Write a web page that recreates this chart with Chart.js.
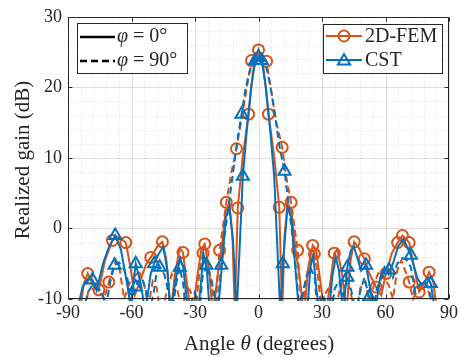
<!DOCTYPE html>
<html>
<head>
<meta charset="utf-8">
<script src="https://cdn.jsdelivr.net/npm/chart.js@4.4.1/dist/chart.umd.min.js"></script>
<style>
  body { margin: 0; background: #fff; }
  #wrap { width: 461px; height: 357px; }
</style>
</head>
<body>
<div id="wrap"><canvas id="myChart" width="461" height="357"></canvas></div>
<script>
// axis ticks
const angleTicks = [-90, -60, -30, 0, 30, 60, 90];
const gainTicks = [-10, 0, 10, 20, 30];

// 2D-FEM, phi = 0 (solid)
const fem0Angle = [-84.5, -82.5, -80.7, -78, -75.5, -72.5, -69, -66, -62.7, -60.5, -58.5, -56, -53, -50.9, -47.5, -45.4, -43.5, -41.5, -39.5, -37.2,
  -35.7, -33.5, -31.5, -29, -27, -25.4, -23.5, -21.5, -19.5, -17.5, -15.5, -13.8, -12.3, -11.2, -9.8, -7.5, -4.7, -2.5, 0, 2.5,
  4.7, 7.5, 9.8, 11.2, 12.3, 13.8, 15.5, 17.5, 19.5, 21.5, 23.5, 25.6, 27.2, 29, 31.5, 33.5, 35.8, 37.2, 39.5, 41.5,
  43.5, 45.2, 47.5, 50, 52.5, 55.5, 58, 60.2, 63, 65.7, 68, 71.2, 73.5, 75.9, 78, 80.6, 82.5, 84.5];
const fem0Gain = [-12, -7.8, -6.4, -8.2, -8.8, -4.5, -1.7, -1.2, -2.0, -5.5, -9.5, -7.5, -5.0, -4.1, -2.4, -1.9, -4.5, -12, -6.5, -2.8,
  -3.4, -8.5, -13, -7, -3, -2.2, -5.5, -12.5, -7, -3, 2.5, 3.6, -1, -12, 2.9, 10, 16.2, 22.5, 25.3, 22.5,
  16.2, 10, 3.0, -12, -1, 3.6, 2.5, -3, -7, -12.5, -5.5, -2.4, -3, -7, -13, -8.5, -3.5, -3, -6.5, -12,
  -4.5, -1.9, -2.8, -4.3, -6.5, -8.3, -9.5, -6.4, -3.5, -2.0, -1.0, -2.0, -5.5, -9, -8, -6.2, -7.5, -12];
const fem0Marks = [-80.7, -69, -62.7, -50.9, -45.4, -35.7, -25.4, -9.8, -4.7, 0, 4.7, 9.8, 25.6, 35.8, 45.2, 50, 55.5, 60.2, 65.7, 68, 71.2, 75.9, 80.6];

// 2D-FEM, phi = 90 (dashed)
const fem90Angle = [-83, -80.5, -78, -75.4, -73, -70.7, -67.5, -65.5, -63.5, -61, -59, -56.5, -54, -52, -50, -48, -46, -43.5, -41, -38.5,
  -36, -34, -32, -30, -28, -26.2, -24.5, -22.5, -20.5, -18.4, -15.2, -12.8, -10.4, -8, -5.5, -3.3, -1, 1, 3.8, 6,
  8.5, 11.2, 13, 15.4, 18.5, 20.5, 22.5, 24.5, 26.4, 28, 30, 32, 34, 36, 38.5, 41, 43.5, 46, 48, 50.5,
  52.5, 54.5, 57, 59, 61.5, 63.5, 65.5, 67.5, 71.2, 73, 75.5, 78, 80.5, 83];
const fem90Gain = [-13, -9, -8.5, -8.7, -10, -7.6, -4.5, -6, -10, -7.8, -7, -6, -8, -11, -7.5, -8.5, -13, -9, -6.5, -8.5,
  -12, -8, -9, -12.5, -6.5, -3.5, -4.5, -7, -12, -3.1, 3.7, 8, 11.3, 15.5, 20, 23.8, 24.8, 24.8, 23.7, 19.5,
  15, 11.5, 7.5, 3.7, -3.1, -12, -7, -4.5, -3.6, -6.5, -12.5, -9, -8, -12, -8.5, -6.5, -9, -13, -8.5, -7.5,
  -11, -8, -6, -7, -8, -10, -6, -4.5, -7.6, -10, -8.5, -8.5, -9, -13];
const fem90Marks = [-75.4, -70.7, -26.2, -18.4, -15.2, -10.4, -3.3, 3.8, 11.2, 15.4, 18.5, 26.4, 71.2];

// CST, phi = 0 (solid)
const cst0Angle = [-86, -83, -80, -78.4, -76.5, -73.5, -70.5, -67.7, -65, -62, -60.5, -58, -55.5, -53.5, -51, -49.3, -47, -45, -43, -41.5,
  -39, -37, -35.6, -33.5, -31.5, -30, -28.5, -26, -24.5, -23, -21, -19.5, -17.5, -15.5, -13.7, -12, -10.3, -8.8, -7.4, -5.5,
  -3.5, -1.5, 0, 1.5, 3.5, 5.5, 7.4, 8.8, 10.3, 11.5, 13.7, 15.5, 17.5, 19.5, 21, 23, 24.5, 25.8, 27.5, 29,
  31, 33, 34.8, 36.5, 38, 40, 42, 43.5, 45, 47, 48.5, 50.8, 53, 55, 57.5, 59.5, 61.5, 63.5, 66, 68.5,
  72, 75, 77, 80, 81.4, 83.5];
const cst0Gain = [-12, -8.2, -7.0, -7.3, -8.8, -5, -2.5, -1.0, -3, -8, -11, -5.0, -8, -12, -6.5, -5.0, -3.5, -2.6, -6, -12,
  -7, -4.2, -5.5, -11, -13, -10.5, -12, -3.6, -5.5, -12, -10.5, -13, -6, 1.5, 3.0, -2, -12, -2, 7.4, 14,
  20, 23.8, 24.2, 23.8, 20, 14, 7.4, -2, -12, -5.0, 3.0, 1.5, -6, -13, -10.5, -12, -5.5, -3.8, -9, -12,
  -10, -13, -7, -4.0, -6, -12, -5.5, -3.2, -2.5, -4.5, -6, -5.2, -9, -12, -7, -5.5, -6.5, -5, -2.5, -1.5,
  -3.8, -7, -8, -7, -7.8, -12];
const cst0Marks = [-78.4, -67.7, -58, -49.3, -7.4, -1.5, 1.5, 11.5, 42, 50.8, 72, 81.4];

// CST, phi = 90 (dashed)
const cst90Angle = [-83, -80.5, -78.5, -76, -74, -72, -70, -68, -66, -64, -62, -60, -58, -57, -55, -53, -51.5, -49.5, -48, -46.7,
  -44.5, -42.5, -41, -39, -37.2, -35.5, -34, -32, -30, -28, -26.5, -24.6, -22.5, -21, -19.5, -17.6, -16, -14, -12, -10,
  -8, -6, -4, -2, 0, 2, 4, 6, 8, 10, 12.3, 14, 16, 17.6, 19.5, 21, 22.5, 24.5, 26.5, 28,
  30, 32, 34, 36, 38, 40, 42, 44, 46, 48, 50, 52.3, 54, 56, 58, 60, 61.7, 63.5, 65.5, 68,
  70, 72, 74, 76, 78.5, 80.5, 83];
const cst90Gain = [-12, -9, -8, -8.5, -9, -11, -7.5, -5.2, -4.8, -5.5, -7, -10.5, -8.3, -7.5, -7, -9, -12, -9, -6, -5.5,
  -6.5, -9, -12.5, -8, -5.5, -8, -13, -10.5, -9, -12, -7, -5.2, -7, -9, -12, -5.2, -1, 3.5, 8, 12.5,
  16.2, 20, 22.5, 24, 24.3, 24, 22.5, 19.5, 15.5, 11.5, 8.1, 4, -1, -5.5, -12, -9, -7, -5.5, -7, -12,
  -9.5, -11, -13, -8.5, -7.5, -9.5, -6.9, -9, -12, -9, -7, -9.7, -12, -8.5, -7, -6.5, -5.9, -7, -5, -4.2,
  -4.5, -5.5, -9, -8, -7.5, -8.5, -12];
const cst90Marks = [-68, -58, -46.7, -37.2, -24.6, -17.6, -8, 0, 12.3, 42, 52.3, 61.7];

const orange = '#D95319';
const blue = '#0072BD';
const ink = '#262626';
const serif = '"Liberation Serif", "Times New Roman", serif';

function series(angles, gains, marks, color, dashed, style, order) {
  return {
    data: angles.map((a, i) => ({ x: a, y: gains[i] })),
    borderColor: color,
    borderWidth: 2,
    borderDash: dashed ? [7, 4] : [],
    pointStyle: style,
    pointRadius: angles.map(a => marks.includes(a) ? (style === 'triangle' ? 7 : 5.5) : 0),
    pointBorderColor: color,
    pointBackgroundColor: 'rgba(0,0,0,0)',
    pointBorderWidth: 2,
    tension: 0,
    fill: false,
    clip: 2,
    order: order
  };
}

function drawMarker(ctx, style, x, y, color) {
  ctx.save();
  ctx.setLineDash([]);
  ctx.strokeStyle = color;
  ctx.lineWidth = 2;
  ctx.beginPath();
  if (style === 'circle') {
    ctx.arc(x, y, 5.5, 0, Math.PI * 2);
  } else {
    const r = 7;
    for (let k = 0; k < 3; k++) {
      const ang = k * 2 * Math.PI / 3;
      const px = x + Math.sin(ang) * r, py = y - Math.cos(ang) * r;
      if (k === 0) ctx.moveTo(px, py); else ctx.lineTo(px, py);
    }
    ctx.closePath();
  }
  ctx.stroke();
  ctx.restore();
}

// draws text made of [string, italic] pieces
function drawPieces(ctx, pieces, x, y, size, align) {
  const fonts = pieces.map(p => (p[1] ? 'italic ' : '') + size + 'px ' + serif);
  let total = 0;
  const widths = pieces.map((p, i) => { ctx.font = fonts[i]; const w = ctx.measureText(p[0]).width; total += w; return w; });
  let cx = align === 'center' ? x - total / 2 : x;
  ctx.textAlign = 'left';
  pieces.forEach((p, i) => { ctx.font = fonts[i]; ctx.fillText(p[0], cx, y); cx += widths[i]; });
}

const frame = {
  id: 'frame',
  beforeDatasetsDraw(chart) {
    const { ctx, chartArea: a, scales: { x, y } } = chart;
    ctx.save();
    ctx.lineWidth = 1;
    // minor grid
    ctx.strokeStyle = 'rgba(38,38,38,0.14)';
    ctx.setLineDash([1, 2]);
    ctx.beginPath();
    for (let v = -90; v <= 90; v += 6) {
      if (v % 30 === 0) continue;
      const px = Math.round(x.getPixelForValue(v)) + 0.5;
      ctx.moveTo(px, a.top); ctx.lineTo(px, a.bottom);
    }
    for (let v = -10; v <= 30; v += 2) {
      if (v % 10 === 0) continue;
      const py = Math.round(y.getPixelForValue(v)) + 0.5;
      ctx.moveTo(a.left, py); ctx.lineTo(a.right, py);
    }
    ctx.stroke();
    // major grid
    ctx.setLineDash([]);
    ctx.strokeStyle = 'rgba(38,38,38,0.15)';
    ctx.beginPath();
    angleTicks.forEach(v => {
      const px = Math.round(x.getPixelForValue(v)) + 0.5;
      ctx.moveTo(px, a.top); ctx.lineTo(px, a.bottom);
    });
    gainTicks.forEach(v => {
      const py = Math.round(y.getPixelForValue(v)) + 0.5;
      ctx.moveTo(a.left, py); ctx.lineTo(a.right, py);
    });
    ctx.stroke();
    ctx.restore();
  },
  afterDatasetsDraw(chart) {
    const { ctx, chartArea: a, scales: { x, y } } = chart;
    ctx.save();
    ctx.strokeStyle = ink;
    ctx.lineWidth = 1;
    const l = Math.round(a.left) + 0.5, r = Math.round(a.right) - 0.5;
    const t = Math.round(a.top) + 0.5, b = Math.round(a.bottom) - 0.5;
    ctx.strokeRect(l, t, r - l, b - t);
    ctx.beginPath();
    angleTicks.forEach(v => {
      const px = Math.round(x.getPixelForValue(v)) + 0.5;
      ctx.moveTo(px, b); ctx.lineTo(px, b - 4);
      ctx.moveTo(px, t); ctx.lineTo(px, t + 4);
    });
    gainTicks.forEach(v => {
      const py = Math.round(y.getPixelForValue(v)) + 0.5;
      ctx.moveTo(l, py); ctx.lineTo(l + 4, py);
      ctx.moveTo(r, py); ctx.lineTo(r - 4, py);
    });
    ctx.stroke();
    ctx.restore();
  },
  afterDraw(chart) {
    const { ctx } = chart;
    ctx.save();
    ctx.fillStyle = ink;
    ctx.textBaseline = 'alphabetic';
    // axis titles
    drawPieces(ctx, [['Angle ', false], ['\u03B8', true], [' (degrees)', false]], 259, 350, 21, 'center');
    ctx.save();
    ctx.translate(23, 160);
    ctx.rotate(-Math.PI / 2);
    ctx.textBaseline = 'middle';
    ctx.textAlign = 'center';
    ctx.font = '21px ' + serif;
    ctx.fillText('Realized gain (dB)', 0, 0);
    ctx.restore();

    // legend: line styles
    ctx.fillStyle = '#fff';
    ctx.fillRect(77.5, 23.5, 110, 50);
    ctx.strokeStyle = ink;
    ctx.lineWidth = 1;
    ctx.strokeRect(77.5, 23.5, 110, 50);
    ctx.lineWidth = 2.5;
    ctx.strokeStyle = '#000';
    ctx.beginPath(); ctx.moveTo(80, 37); ctx.lineTo(115, 37); ctx.stroke();
    ctx.setLineDash([7, 4]);
    ctx.beginPath(); ctx.moveTo(80, 61); ctx.lineTo(115, 61); ctx.stroke();
    ctx.setLineDash([]);
    ctx.fillStyle = ink;
    ctx.textBaseline = 'middle';
    drawPieces(ctx, [['\u03C6', true], [' = 0\u00B0', false]], 117, 37, 20, 'left');
    drawPieces(ctx, [['\u03C6', true], [' = 90\u00B0', false]], 117, 61, 20, 'left');

    // legend: methods
    ctx.fillStyle = '#fff';
    ctx.fillRect(323.5, 24.5, 119, 49);
    ctx.strokeStyle = ink;
    ctx.lineWidth = 1;
    ctx.strokeRect(323.5, 24.5, 119, 49);
    ctx.lineWidth = 2;
    ctx.strokeStyle = orange;
    ctx.beginPath(); ctx.moveTo(326, 36); ctx.lineTo(362, 36); ctx.stroke();
    drawMarker(ctx, 'circle', 344, 36, orange);
    ctx.strokeStyle = blue;
    ctx.beginPath(); ctx.moveTo(326, 60); ctx.lineTo(362, 60); ctx.stroke();
    drawMarker(ctx, 'triangle', 344, 61, blue);
    ctx.fillStyle = ink;
    drawPieces(ctx, [['2D-FEM', false]], 365, 37, 20, 'left');
    drawPieces(ctx, [['CST', false]], 365, 61, 20, 'left');
    ctx.restore();
  }
};

const tickFont = { family: serif, size: 18 };

new Chart(document.getElementById('myChart'), {
  type: 'line',
  data: {
    datasets: [
      series(fem0Angle, fem0Gain, fem0Marks, orange, false, 'circle', 2),
      series(fem90Angle, fem90Gain, fem90Marks, orange, true, 'circle', 3),
      series(cst0Angle, cst0Gain, cst0Marks, blue, false, 'triangle', 0),
      series(cst90Angle, cst90Gain, cst90Marks, blue, true, 'triangle', 1)
    ]
  },
  options: {
    animation: false,
    responsive: false,
    devicePixelRatio: 1,
    layout: { padding: { top: 14, right: 11, left: 0, bottom: 0 } },
    plugins: { legend: { display: false }, tooltip: { enabled: false } },
    scales: {
      x: {
        type: 'linear', min: -90, max: 90,
        afterBuildTicks: s => { s.ticks = angleTicks.map(v => ({ value: v })); },
        afterFit: s => { s.height = 58; },
        grid: { display: false, drawTicks: false },
        border: { display: false },
        ticks: { font: tickFont, color: ink, padding: 3, maxRotation: 0, autoSkip: false }
      },
      y: {
        type: 'linear', min: -10, max: 30,
        afterBuildTicks: s => { s.ticks = gainTicks.map(v => ({ value: v })); },
        afterFit: s => { s.width = 68; },
        grid: { display: false, drawTicks: false },
        border: { display: false },
        ticks: { font: tickFont, color: ink, padding: 6, autoSkip: false }
      }
    }
  },
  plugins: [frame]
});
</script>
</body>
</html>
